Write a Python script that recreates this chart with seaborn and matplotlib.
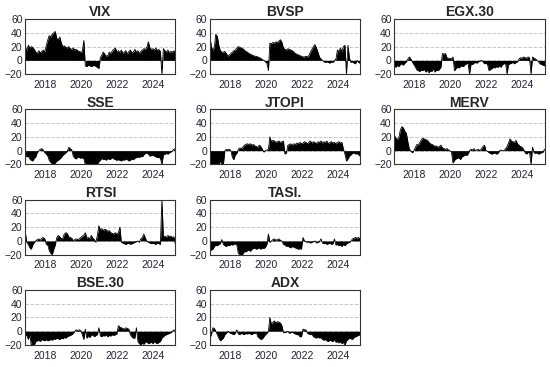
import matplotlib
matplotlib.use("Agg")
import matplotlib.pyplot as plt
import matplotlib.dates as mdates
import numpy as np
import pandas as pd
import seaborn as sns

# monthly values, Nov 2016 .. Mar 2025 (101 points)
dates = pd.date_range("2016-11-01", periods=101, freq="MS") + pd.Timedelta(days=20)

vix = [20, 14,
       22, 18, 20, 19, 16, 12, 10, 14, 11, 13, 15, 12,
       22, 30, 36, 34, 38, 40, 42, 32, 30, 34, 25, 20,
       21, 19, 18, 20, 17, 16, 18, 15, 16, 14, 13, 12,
       13, 29, -8, -9, -7, -8, -9, -8, -7, -9, -10, -12,
       4, 8, 12, 9, 6, 7, 12, 10, 14, 16, 18, 12,
       14, 11, 15, 10, 12, 14, 9, 13, 15, 11, 12, 16,
       12, 14, 10, 13, 15, 17, 16, 19, 27, 18, 16, 17,
       15, 18, 14, 16, 13, -20, 17, 14, 12, 15, 11, 13,
       12, 14, 10]

bvsp = [35, 20,
        14, 20, 38, 35, 22, 14, 12, 12, 13, 10, 6, 8,
        10, 12, 14, 15, 18, 20, 19, 18, 17, 15, 13, 12,
        10, 9, 8, 7, 6, 6, 5, 4, 3, 1, 0, -2,
        -4, -15, 25, 24, 26, 25, 27, 26, 28, 30, 26, 18,
        16, 15, 17, 16, 15, 14, 12, 10, 9, 8, 7, 6,
        5, 5, 6, 5, 7, 12, 16, 20, 23, 18, 12, 5,
        2, 0, -2, -3, -2, -3, -4, -2, -3, 0, 2, 15,
        13, 18, 12, 20, 22, -20, 22, 3, -3, -2, -4, -5,
        0, -3, -4]

egx30 = [-8, -10,
         -7, -9, -6, -5, -7, -4, -2, 2, 5, 2, -3, -6,
         -10, -14, -15, -16, -14, -15, -13, -17, -14, -18, -15, -16,
         -12, -17, -14, -15, -13, -10, 10, 9, 10, 4, 3, 3,
         2, 5, -15, -12, -10, -11, -9, -8, -9, -6, -5, -4,
         -20, -5, -6, -4, -3, -4, -2, -1, 0, -2, -5, -4,
         -6, -15, -13, -12, -10, -11, -9, -10, -8, -10, -6, -5,
         -4, -20, -6, -5, -4, -3, -5, -3, -2, 2, 4, 3,
         5, 4, 3, 5, 4, -20, 5, 3, 2, 0, -2, -5,
         -6, -7, -8]

sse = [-5, -9,
       -8, -12, -14, -15, -11, -9, -3, 0, 2, 3, 1, -3,
       -5, -8, -14, -17, -19, -20, -18, -15, -14, -12, -10, -7,
       -5, -3, -1, 5, 3, 1, -8, -11, -12, -9, -10, -11,
       -10, -12, -20, -20, -20, -19, -20, -20, -20, -19, -20, -16,
       -14, -11, -13, -12, -14, -11, -13, -12, -10, -12, -13, -14,
       -13, -14, -15, -13, -14, -12, -13, -15, -14, -12, -13, -11,
       -10, -9, -10, -8, -9, -6, -4, -3, -5, -8, -7, -6,
       -8, -9, -10, -10, -11, -20, -6, -5, -4, -5, -3, -2,
       0, 2, 3]

jtopi = [-20, -20,
         -20, -20, -20, -20, -20, -15, -20, -20, 0, 2, 1, 2,
         0, -10, -13, -6, -4, 2, 4, 3, 5, 8, 9, 10,
         9, 10, 8, 9, 7, 6, 5, 8, 6, 2, -2, 0,
         1, 2, 20, 13, 15, 14, 12, 13, 14, 12, 13, 14,
         -5, -3, 8, 9, 10, 8, 10, 9, 11, 10, 12, 10,
         11, 13, 12, 10, 12, 14, 11, 13, 12, 10, 13, 12,
         14, 11, 13, 12, 14, 10, 12, 13, 11, 12, 10, 12,
         13, 11, 12, 2, -5, -15, -12, -8, -6, -4, -3, -5,
         -4, -6, -8]

merv = [22, 18,
        16, 20, 30, 35, 33, 28, 25, 12, 2, -1, -3, 0,
        5, 9, 8, 12, 16, 18, 17, 16, 15, 12, 10, 9,
        8, 6, 7, 5, 6, 8, 4, 3, 2, 3, 1, 0,
        -2, -18, -14, -12, -11, -10, -13, -9, -8, -6, -7, -5,
        0, 2, 1, 3, 0, 1, 2, 0, 3, 6, 8, 0,
        -1, -3, -4, -5, -4, -3, -5, -4, 0, 1, 0, 0,
        3, 6, 11, 17, 14, 13, 12, 15, 10, 8, 6, 5,
        2, -3, -5, -3, -2, -20, 5, -3, -4, -3, -5, -4,
        -3, -2, 2]

rtsi = [12, -2,
        -5, -10, -12, -6, -2, 0, 2, 3, 1, 4, 5, 3,
        -5, -6, -14, -18, -20, -12, -6, 5, 8, 6, 3, 4,
        10, 12, 11, 6, 5, 4, 0, 2, 3, 2, 3, 5,
        7, 8, 12, 4, 5, 3, 8, 4, 2, -2, 8, 22,
        16, 18, 15, 17, 16, 14, 15, 12, 11, 10, 12, 10,
        12, 20, -2, -3, -4, -5, -4, -3, -5, -4, -3, -2,
        -1, 0, -2, 3, 5, 10, 4, 0, -2, -3, -4, -3,
        -4, -5, -3, -4, -5, 60, 6, 7, 5, 8, 6, 7,
        5, 6, -5]

tasi = [-15, -13,
        -12, -8, -6, -7, -5, -4, 2, -5, -7, -8, -6, -7,
        -5, -6, -5, -4, -6, -18, -20, -20, -19, -15, -16, -14,
        -13, -15, -12, -11, -10, -12, -11, -10, -12, -10, -11, -9,
        -5, 10, -2, 0, 2, 3, 1, 2, 3, 1, 0, -5,
        -6, -8, -7, -9, -10, -8, -9, -10, -11, -12, -11, -12,
        5, 0, -1, -2, -1, -3, -2, -1, 0, -3, -2, -1,
        3, -3, -4, -3, -5, -4, -3, -5, -4, 3, -6, -5,
        -7, -6, -8, -5, -7, -4, -3, -2, 0, 3, 4, 5,
        4, 5, 3]

bse30 = [-5, -6,
         -12, -5, -20, -19, -20, -15, -14, -13, -15, -12, -13, -14,
         -12, -14, -13, -12, -13, -11, -12, -10, -11, -12, -10, -11,
         -9, -10, -8, -7, -6, -5, -3, 0, 2, 1, 2, 1,
         -5, -12, 3, -10, -7, -9, -6, -5, -8, -6, -5, 5,
         -7, -8, -6, -7, -5, -8, -6, -7, -5, -6, -5, -4,
         8, 6, 5, 4, 3, 5, 4, 3, -5, -8, -10, -10,
         5, -15, -18, -20, -17, -19, -16, -15, -18, -17, -16, -18,
         -15, -17, -18, -16, -15, -10, -8, -6, -5, -4, -3, -2,
         0, 2, 1]

adx = [-10, -5,
       5, 4, 0, -5, -10, -14, -12, -10, -5, -3, 0, -2,
       -3, -4, -5, -3, 2, -4, -5, -3, -4, -5, -3, -4,
       -3, -4, -5, -3, -3, -2, -8, -10, -12, -11, -8, -5,
       -3, 0, 20, 10, 13, 15, 12, 14, 13, 12, 8, -2,
       -2, -1, 0, -3, -2, -1, -3, -4, -5, -5, -8, -8,
       3, 2, 2, -3, -4, -5, -4, -8, -9, -10, -8, -10,
       -9, -12, -13, -12, -14, -15, -13, -14, -15, -12, -16, -15,
       -17, -15, -18, -16, -20, -14, -12, -10, -11, -12, -9, -8,
       -7, -6, -5]

names = ["VIX", "BVSP", "EGX.30", "SSE", "JTOPI", "MERV",
         "RTSI", "TASI.", "BSE.30", "ADX"]
series = [vix, bvsp, egx30, sse, jtopi, merv, rtsi, tasi, bse30, adx]

sns.set_theme(style="white")
plt.rcParams["font.family"] = ["Liberation Sans", "DejaVu Sans"]

fig, axes = plt.subplots(4, 3, figsize=(5.5, 3.67), dpi=100)
fig.subplots_adjust(left=0.046, right=0.99, bottom=0.06, top=0.948,
                    wspace=0.23, hspace=0.64)
flat = axes.flatten()
slots = [0, 1, 2, 3, 4, 5, 6, 7, 9, 10]

for k, (name, vals) in enumerate(zip(names, series)):
    ax = flat[slots[k]]
    df = pd.DataFrame({"date": dates, "value": vals})
    ax.fill_between(df["date"], 0, df["value"], color="black", lw=0)
    sns.lineplot(data=df, x="date", y="value", ax=ax, color="black", lw=0.6)
    ax.set_xlim(dates[0], dates[-1])
    ax.set_ylim(-20, 60)
    ax.set_yticks([-20, 0, 20, 40, 60])
    ax.yaxis.grid(True, ls="--", color="#c8c8c8", lw=0.7)
    ax.set_axisbelow(True)
    ax.xaxis.set_major_locator(mdates.YearLocator(2))
    ax.xaxis.set_major_formatter(mdates.DateFormatter("%Y"))
    ax.set_xlabel("")
    ax.set_ylabel("")
    ax.set_title(name, fontsize=10, fontweight="bold", pad=2)
    ax.tick_params(labelsize=7.5, length=0, colors="#222233")
    ax.tick_params(axis="x", pad=4)
    ax.tick_params(axis="y", pad=2)
    for s in ax.spines.values():
        s.set_color("#333333")
        s.set_linewidth(0.8)

flat[8].axis("off")
flat[11].axis("off")

fig.savefig("out.png", dpi=100)
